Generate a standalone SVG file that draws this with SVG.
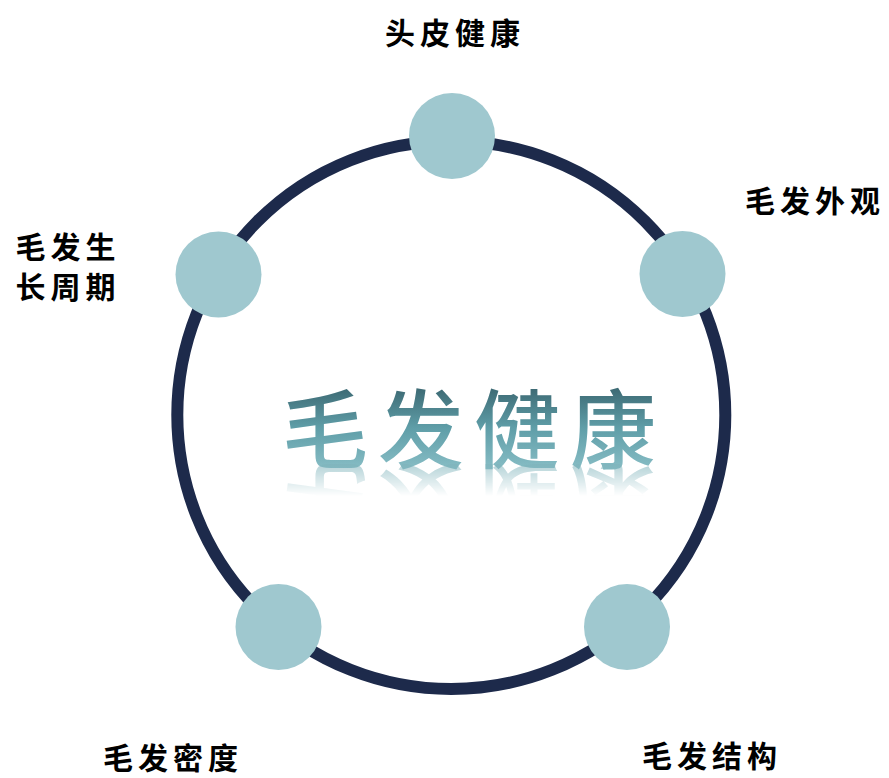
<svg xmlns="http://www.w3.org/2000/svg" width="889" height="778" viewBox="0 0 889 778">
<style>
.lbl{font-family:"Noto Sans CJK SC","Liberation Sans",sans-serif;font-size:30px;font-weight:700;fill:#000;letter-spacing:5px;text-anchor:middle}
.node{fill:#9fc8cf}
.title{font-family:"Noto Sans CJK SC","Liberation Sans",sans-serif;font-size:86px;font-weight:500;letter-spacing:10px;text-anchor:middle}
</style>
<defs>
<linearGradient id="tg" x1="0" y1="388" x2="0" y2="468" gradientUnits="userSpaceOnUse">
<stop offset="0" stop-color="#3d6a74"/>
<stop offset="0.5" stop-color="#5f9ea8"/>
<stop offset="1" stop-color="#86bcc4"/>
</linearGradient>
<linearGradient id="rg" x1="0" y1="466" x2="0" y2="496" gradientUnits="userSpaceOnUse">
<stop offset="0" stop-color="#fff" stop-opacity="0.55"/>
<stop offset="1" stop-color="#fff" stop-opacity="0"/>
</linearGradient>
<mask id="rm" maskUnits="userSpaceOnUse" x="0" y="0" width="889" height="778">
<rect x="200" y="464" width="520" height="40" fill="url(#rg)"/>
</mask>
</defs>
<g id="connectors">
<circle cx="451.3" cy="415" r="274" fill="none" stroke="#1d2a4b" stroke-width="12"/>
</g>
<g id="center">
<text class="title" x="474" y="462" fill="url(#tg)">毛发健康</text>
<g mask="url(#rm)">
<text class="title" x="474" y="462" fill="#7fb3bb" transform="translate(0,932) scale(1,-1)">毛发健康</text>
</g>
</g>
<g id="node-scalp">
<circle class="node" cx="452" cy="136" r="43"/>
<text class="lbl" x="455" y="44">头皮健康</text>
</g>
<g id="node-appearance">
<circle class="node" cx="682.5" cy="274" r="43"/>
<text class="lbl" x="815" y="212">毛发外观</text>
</g>
<g id="node-cycle">
<circle class="node" cx="218.5" cy="274.5" r="43"/>
<text class="lbl" x="68" y="258">毛发生</text>
<text class="lbl" x="68" y="298">长周期</text>
</g>
<g id="node-density">
<circle class="node" cx="278.5" cy="627" r="43"/>
<text class="lbl" x="173" y="769">毛发密度</text>
</g>
<g id="node-structure">
<circle class="node" cx="627" cy="627" r="43"/>
<text class="lbl" x="712" y="767">毛发结构</text>
</g>
</svg>
